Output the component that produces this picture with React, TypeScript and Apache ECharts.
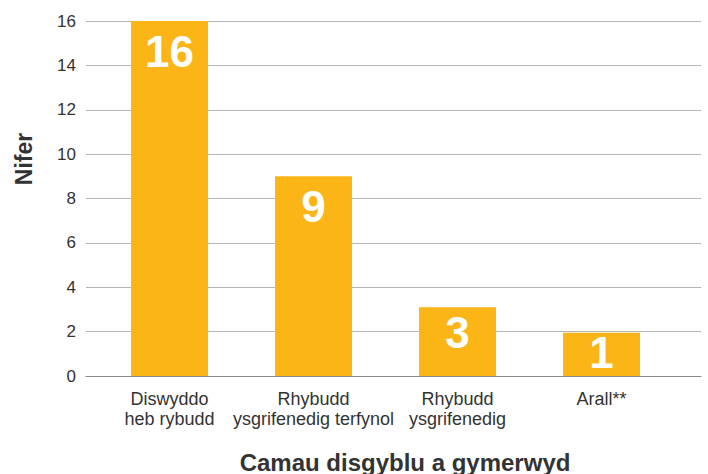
import React, { useEffect, useRef } from "react";
import * as echarts from "echarts";

const categories = ["Diswyddo\nheb rybudd", "Rhybudd\nysgrifenedig terfynol", "Rhybudd\nysgrifenedig", "Arall**"];
const barValues = [16, 9, 3.1, 1.95];
const barLabels = ["16", "9", "3", "1"];
const yTicks = [0, 2, 4, 6, 8, 10, 12, 14, 16];
const yTitle = "Nifer";
const xTitle = "Camau disgyblu a gymerwyd";

const FONT = "'Liberation Sans', Arial, Helvetica, sans-serif";
const labelDistances = [8, 8, 3, -2];

export default function App() {
  const ref = useRef<HTMLDivElement>(null);
  useEffect(() => {
    if (!ref.current) return;
    const chart = echarts.init(ref.current, null, { renderer: "svg" });
    const yMin = yTicks[0];
    const yMax = yTicks[yTicks.length - 1];
    const yInterval = yTicks[1] - yTicks[0];
    chart.setOption({
      animation: false,
      backgroundColor: "#ffffff",
      grid: [
        { left: 86, right: 7, top: 21, bottom: 98 },
        { left: 97.5, right: 34.5, top: 21, bottom: 98 },
      ],
      xAxis: [
        {
          gridIndex: 0,
          type: "value",
          min: 0,
          max: 1,
          axisLabel: { show: false },
          axisTick: { show: false },
          splitLine: { show: false },
          axisLine: { show: true, lineStyle: { color: "#8a8a8a", width: 1.2 } },
        },
        {
          gridIndex: 1,
          type: "category",
          data: categories,
          axisLine: { show: false },
          axisTick: { show: false },
          axisLabel: {
            color: "#333333",
            fontFamily: FONT,
            fontSize: 18,
            lineHeight: 20,
            margin: 13,
            interval: 0,
          },
        },
      ],
      yAxis: [
        {
          gridIndex: 0,
          type: "value",
          min: yMin,
          max: yMax,
          interval: yInterval,
          axisLine: { show: false },
          axisTick: { show: false },
          axisLabel: { color: "#333333", fontFamily: FONT, fontSize: 17, margin: 10 },
          splitLine: { show: true, lineStyle: { color: "#b5b5b5", width: 1 } },
        },
        {
          gridIndex: 1,
          type: "value",
          min: yMin,
          max: yMax,
          interval: yInterval,
          show: false,
          splitLine: { show: false },
        },
      ],
      series: [
        {
          type: "bar",
          xAxisIndex: 1,
          yAxisIndex: 1,
          barWidth: 77,
          itemStyle: { color: "#FBB516" },
          data: barValues.map((v, i) => ({
            value: v,
            label: { distance: labelDistances[i] },
          })),
          label: {
            show: true,
            position: "insideTop",
            color: "#ffffff",
            fontFamily: FONT,
            fontWeight: "bold",
            fontSize: 44,
            formatter: (p: any) => barLabels[p.dataIndex],
          },
          z: 3,
        },
      ],
      graphic: [
        {
          type: "text",
          x: 24,
          y: 159,
          rotation: Math.PI / 2,
          style: {
            text: yTitle,
            fill: "#333333",
            font: `bold 23px ${FONT}`,
            align: "center",
            verticalAlign: "middle",
          },
        },
        {
          type: "text",
          x: 405,
          y: 462,
          style: {
            text: xTitle,
            fill: "#333333",
            font: `bold 24px ${FONT}`,
            align: "center",
            verticalAlign: "middle",
          },
        },
      ],
    });
    return () => chart.dispose();
  }, []);
  return (
    <div
      ref={ref}
      style={{ position: "fixed", left: 0, top: 0, width: 708, height: 474 }}
    />
  );
}
